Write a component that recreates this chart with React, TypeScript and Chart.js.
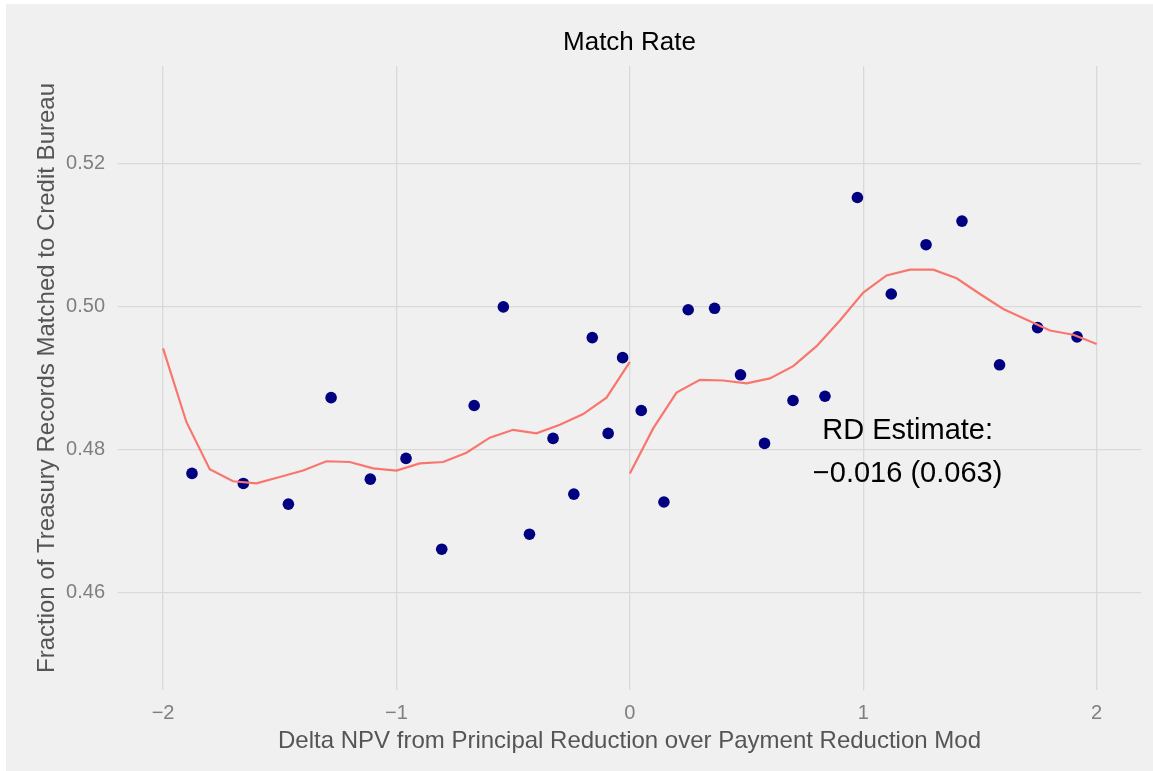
import React, { useEffect, useRef } from "react";
import { Chart, registerables } from "chart.js";

Chart.register(...registerables);

const chartTitle = "Match Rate";
const xAxisTitle = "Delta NPV from Principal Reduction over Payment Reduction Mod";
const yAxisTitle = "Fraction of Treasury Records Matched to Credit Bureau";
const annotationLines = ["RD Estimate:", "\u22120.016 (0.063)"];

const xTicks = [-2, -1, 0, 1, 2];
const yTicks = [0.46, 0.48, 0.5, 0.52];

const binX = [
  -1.876, -1.656, -1.463, -1.28, -1.112, -0.959, -0.806, -0.667, -0.542, -0.43,
  -0.329, -0.24, -0.161, -0.093, -0.031, 0.049, 0.146, 0.25, 0.363, 0.474,
  0.577, 0.699, 0.836, 0.975, 1.12, 1.269, 1.423, 1.584, 1.747, 1.916,
];
const binY = [
  0.4767, 0.4753, 0.4724, 0.4873, 0.4759, 0.4788, 0.4661, 0.4862, 0.5, 0.4682,
  0.4816, 0.4738, 0.4957, 0.4823, 0.4929, 0.4855, 0.4727, 0.4996, 0.4998, 0.4905,
  0.4809, 0.4869, 0.4875, 0.5153, 0.5018, 0.5087, 0.512, 0.4919, 0.4971, 0.4958,
];

const leftFitX = [
  -2.0, -1.9, -1.8, -1.7, -1.6, -1.5, -1.4, -1.3, -1.2, -1.1, -1.0, -0.9, -0.8,
  -0.7, -0.6, -0.5, -0.4, -0.3, -0.2, -0.1, 0.0,
];
const leftFitY = [
  0.4942, 0.4839, 0.4773, 0.4756, 0.4753, 0.4762, 0.4771, 0.4784, 0.4783, 0.4774,
  0.4771, 0.4781, 0.4783, 0.4796, 0.4817, 0.4828, 0.4823, 0.4835, 0.485, 0.4873,
  0.4923,
];
const rightFitX = [
  0.0, 0.1, 0.2, 0.3, 0.4, 0.5, 0.6, 0.7, 0.8, 0.9, 1.0, 1.1, 1.2, 1.3, 1.4, 1.5,
  1.6, 1.7, 1.8, 1.9, 2.0,
];
const rightFitY = [
  0.4767, 0.483, 0.488, 0.4898, 0.4897, 0.4893, 0.49, 0.4917, 0.4945, 0.4981,
  0.502, 0.5044, 0.5052, 0.5052, 0.504, 0.5018, 0.4997, 0.4982, 0.4967, 0.4961,
  0.4948,
];

const annotationX = 1.19;
const annotationY = [0.4815, 0.4755];

const FONT = "'Liberation Sans', Arial, Helvetica, sans-serif";

const fmtMinus = (v: number, digits?: number) => {
  const s = digits !== undefined ? Math.abs(v).toFixed(digits) : String(Math.abs(v));
  return v < 0 ? "\u2212" + s : s;
};

const backgroundPlugin = {
  id: "bgPanel",
  beforeDraw(chart: any) {
    const { ctx, width, height } = chart;
    ctx.save();
    ctx.fillStyle = "#ffffff";
    ctx.fillRect(0, 0, width, height);
    ctx.fillStyle = "#f0f0f0";
    ctx.fillRect(6, 4, width - 6, height - 4);
    ctx.restore();
  },
};

const textPlugin = {
  id: "textOverlay",
  afterDraw(chart: any) {
    const { ctx, chartArea, scales } = chart;
    ctx.save();
    ctx.fillStyle = "#000000";
    ctx.textAlign = "center";
    ctx.textBaseline = "alphabetic";
    ctx.font = `26px ${FONT}`;
    ctx.fillText(chartTitle, (chartArea.left + chartArea.right) / 2, 50);
    ctx.font = `29px ${FONT}`;
    const px = scales.x.getPixelForValue(annotationX);
    annotationLines.forEach((line, i) => {
      ctx.fillText(line, px, scales.y.getPixelForValue(annotationY[i]));
    });
    ctx.restore();
  },
};

export default function App() {
  const ref = useRef<HTMLCanvasElement | null>(null);

  useEffect(() => {
    if (!ref.current) return;
    const lineStyle = {
      borderColor: "#F8766D",
      backgroundColor: "#F8766D",
      borderWidth: 2.2,
      pointRadius: 0,
      showLine: true,
      fill: false,
      tension: 0,
    };
    const chart = new Chart(ref.current, {
      type: "scatter",
      data: {
        datasets: [
          {
            label: "fit-left",
            data: leftFitX.map((x, i) => ({ x, y: leftFitY[i] })),
            ...lineStyle,
            order: 1,
          },
          {
            label: "fit-right",
            data: rightFitX.map((x, i) => ({ x, y: rightFitY[i] })),
            ...lineStyle,
            order: 1,
          },
          {
            label: "bins",
            data: binX.map((x, i) => ({ x, y: binY[i] })),
            backgroundColor: "#000080",
            borderColor: "#000080",
            borderWidth: 0,
            pointRadius: 5.8,
            pointHoverRadius: 5.8,
            showLine: false,
            order: 2,
          },
        ],
      } as any,
      options: {
        animation: false,
        responsive: false,
        maintainAspectRatio: false,
        events: [],
        layout: { padding: { top: 66, right: 12, bottom: 0, left: 0 } },
        plugins: {
          legend: { display: false },
          title: { display: false },
          tooltip: { enabled: false },
        },
        scales: {
          x: {
            type: "linear",
            min: -2.193,
            max: 2.19,
            border: { display: false },
            grid: { color: "#d9d9d9", lineWidth: 1.3, drawTicks: false },
            afterBuildTicks: (s: any) => {
              s.ticks = xTicks.map((v) => ({ value: v }));
            },
            afterFit: (s: any) => {
              s.height = 81;
            },
            ticks: {
              padding: 11,
              color: "#7f7f7f",
              font: { family: FONT, size: 20 },
              callback: (v: any) => fmtMinus(Number(v)),
              maxRotation: 0,
              autoSkip: false,
            },
            title: {
              display: true,
              text: xAxisTitle,
              color: "#555555",
              font: { family: FONT, size: 24, lineHeight: 1 },
              padding: { top: 0, bottom: 18 },
            },
          },
          y: {
            type: "linear",
            min: 0.4464,
            max: 0.5337,
            border: { display: false },
            grid: { color: "#d9d9d9", lineWidth: 1.3, drawTicks: false },
            afterBuildTicks: (s: any) => {
              s.ticks = yTicks.map((v) => ({ value: v }));
            },
            afterFit: (s: any) => {
              s.width = 118;
            },
            ticks: {
              padding: 13,
              color: "#7f7f7f",
              font: { family: FONT, size: 20 },
              callback: (v: any) => fmtMinus(Number(v), 2),
              autoSkip: false,
            },
            title: {
              display: true,
              text: yAxisTitle,
              color: "#555555",
              font: { family: FONT, size: 24, lineHeight: 1 },
              padding: { top: 35, bottom: 0 },
            },
          },
        },
      } as any,
      plugins: [backgroundPlugin, textPlugin],
    });
    return () => chart.destroy();
  }, []);

  return (
    <div style={{ position: "fixed", left: 0, top: 0, width: 1153, height: 771 }}>
      <canvas ref={ref} width={1153} height={771} style={{ display: "block" }} />
    </div>
  );
}
